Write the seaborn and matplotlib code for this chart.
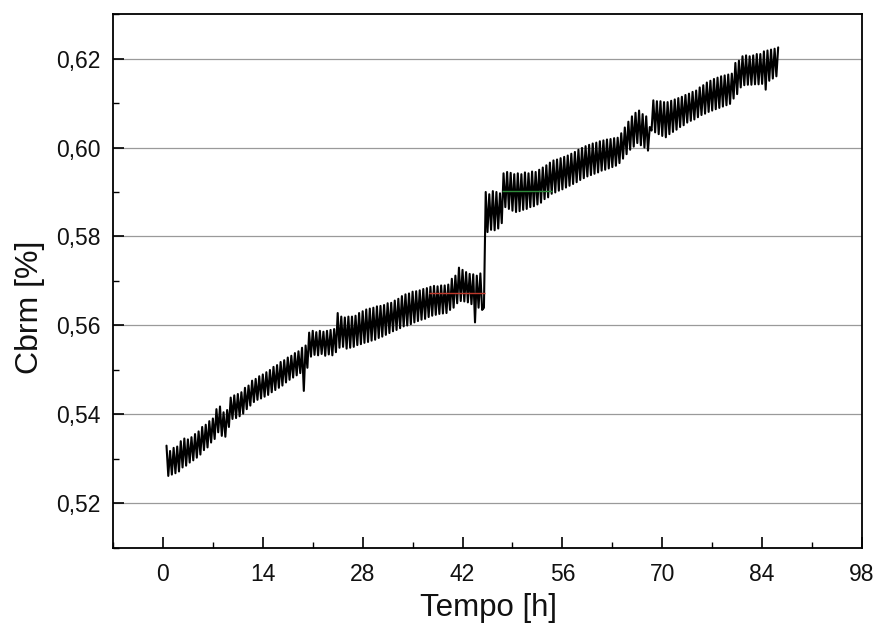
import numpy as np
import matplotlib
matplotlib.use("Agg")
import matplotlib.pyplot as plt
from matplotlib.ticker import MultipleLocator, FuncFormatter
import seaborn as sns

t_start = 0.5
t_step = 0.25

cbrm_00_22 = [
    0.5330, 0.5262, 0.5318, 0.5265, 0.5325, 0.5268, 0.5328, 0.5272,
    0.5340, 0.5281, 0.5346, 0.5285, 0.5344, 0.5292, 0.5349, 0.5297,
    0.5356, 0.5303, 0.5362, 0.5310, 0.5372, 0.5320, 0.5377, 0.5326,
    0.5385, 0.5337, 0.5391, 0.5345, 0.5412, 0.5360, 0.5418, 0.5352,
    0.5405, 0.5350, 0.5410, 0.5372, 0.5438, 0.5390, 0.5443, 0.5392,
    0.5446, 0.5396, 0.5450, 0.5402, 0.5460, 0.5412, 0.5465, 0.5420,
    0.5476, 0.5428, 0.5480, 0.5433, 0.5486, 0.5436, 0.5490, 0.5440,
    0.5495, 0.5444, 0.5500, 0.5450, 0.5507, 0.5455, 0.5511, 0.5460,
    0.5518, 0.5465, 0.5522, 0.5472, 0.5528, 0.5478, 0.5532, 0.5483,
    0.5538, 0.5488, 0.5542, 0.5493, 0.5550, 0.5453, 0.5555, 0.5505,
    0.5584, 0.5530, 0.5588, 0.5534, 0.5585, 0.5533, 0.5588, 0.5536,
]
cbrm_22_45 = [
    0.5586, 0.5532, 0.5588, 0.5535, 0.5590, 0.5533, 0.5592, 0.5540,
    0.5628, 0.5550, 0.5620, 0.5552, 0.5618, 0.5548, 0.5620, 0.5550,
    0.5620, 0.5552, 0.5622, 0.5556, 0.5628, 0.5558, 0.5632, 0.5561,
    0.5636, 0.5563, 0.5638, 0.5566, 0.5640, 0.5568, 0.5643, 0.5572,
    0.5644, 0.5575, 0.5646, 0.5579, 0.5650, 0.5583, 0.5651, 0.5587,
    0.5656, 0.5590, 0.5660, 0.5594, 0.5666, 0.5598, 0.5670, 0.5600,
    0.5672, 0.5603, 0.5676, 0.5607, 0.5677, 0.5610, 0.5679, 0.5613,
    0.5682, 0.5615, 0.5684, 0.5619, 0.5687, 0.5622, 0.5689, 0.5624,
    0.5688, 0.5626, 0.5690, 0.5627, 0.5690, 0.5628, 0.5692, 0.5635,
    0.5705, 0.5640, 0.5712, 0.5650, 0.5730, 0.5655, 0.5725, 0.5654,
    0.5720, 0.5652, 0.5716, 0.5648, 0.5715, 0.5607, 0.5712, 0.5640,
    0.5717, 0.5635, 0.5640, 0.5900,
]
cbrm_45_66 = [
    0.5810, 0.5895, 0.5815, 0.5902, 0.5814, 0.5900, 0.5818, 0.5897,
    0.5830, 0.5942, 0.5866, 0.5945, 0.5862, 0.5943, 0.5858, 0.5940,
    0.5855, 0.5942, 0.5857, 0.5940, 0.5860, 0.5944, 0.5862, 0.5942,
    0.5866, 0.5946, 0.5868, 0.5945, 0.5872, 0.5950, 0.5876, 0.5955,
    0.5884, 0.5960, 0.5888, 0.5966, 0.5896, 0.5971, 0.5899, 0.5973,
    0.5903, 0.5976, 0.5906, 0.5979, 0.5910, 0.5982, 0.5914, 0.5986,
    0.5918, 0.5990, 0.5922, 0.5995, 0.5927, 0.5999, 0.5931, 0.6003,
    0.5935, 0.6006, 0.5938, 0.6009, 0.5941, 0.6011, 0.5944, 0.6014,
    0.5948, 0.6016, 0.5950, 0.6018, 0.5953, 0.6019, 0.5956, 0.6021,
    0.5959, 0.6022, 0.5965, 0.6032, 0.5975, 0.6045, 0.5985, 0.6058,
    0.5995, 0.6070, 0.6002, 0.6078,
]
cbrm_66_87 = [
    0.6010, 0.6083, 0.6005, 0.6075, 0.6000, 0.6070, 0.5993, 0.6046,
    0.6038, 0.6106, 0.6034, 0.6104, 0.6030, 0.6104, 0.6026, 0.6102,
    0.6023, 0.6102, 0.6030, 0.6105, 0.6035, 0.6108, 0.6040, 0.6111,
    0.6046, 0.6114, 0.6050, 0.6118, 0.6056, 0.6121, 0.6060, 0.6125,
    0.6063, 0.6128, 0.6068, 0.6135, 0.6073, 0.6140, 0.6076, 0.6146,
    0.6080, 0.6150, 0.6083, 0.6154, 0.6086, 0.6157, 0.6089, 0.6160,
    0.6092, 0.6162, 0.6095, 0.6164, 0.6098, 0.6166, 0.6110, 0.6190,
    0.6120, 0.6195, 0.6135, 0.6205, 0.6140, 0.6207, 0.6141, 0.6205,
    0.6141, 0.6207, 0.6142, 0.6210, 0.6142, 0.6210, 0.6143, 0.6216,
    0.6130, 0.6218, 0.6150, 0.6220, 0.6155, 0.6222, 0.6160, 0.6225,
]

# mean-level segments (red / green) seen in the reference
mean_levels = [0.5673, 0.5903]
mean_starts = [37.3, 47.5]
mean_ends = [45.2, 54.5]
mean_colors = ["#c0392b", "#2e8b3a"]

x_ticks = [0, 14, 28, 42, 56, 70, 84, 98]
y_ticks = [0.52, 0.54, 0.56, 0.58, 0.60, 0.62]

cbrm = np.array(cbrm_00_22 + cbrm_22_45 + cbrm_45_66 + cbrm_66_87)
tempo = t_start + t_step * np.arange(len(cbrm))

# ---- plot ----
sns.set_theme(style="white")
plt.rcParams["font.family"] = ["Liberation Sans", "DejaVu Sans"]

fig = plt.figure(figsize=(8.76, 6.28), dpi=100)
ax = fig.add_axes([0.129, 0.1274, 0.855, 0.8503])

ax.grid(False)
for yv in y_ticks:
    ax.axhline(yv, color="#9a9a9a", linewidth=0.9, zorder=0)

sns.lineplot(x=tempo, y=cbrm, ax=ax, color="black", linewidth=1.5,
             estimator=None, sort=False, zorder=2)

for lv, xs, xe, c in zip(mean_levels, mean_starts, mean_ends, mean_colors):
    ax.hlines(lv, xs, xe, colors=c, linewidth=1.0, zorder=3)

ax.set_xlim(-7, 98)
ax.set_ylim(0.51, 0.63)
ax.set_xticks(x_ticks)
ax.set_yticks(y_ticks)
ax.xaxis.set_minor_locator(MultipleLocator(7))
ax.yaxis.set_minor_locator(MultipleLocator(0.01))
ax.yaxis.set_major_formatter(FuncFormatter(lambda v, p: f"{v:.2f}".replace(".", ",")))

ax.tick_params(axis="both", which="major", direction="in", length=8, width=1.2,
               labelsize=16.5, color="black", labelcolor="#111111",
               bottom=True, left=True, top=False, right=False)
ax.tick_params(axis="x", which="major", pad=11)
ax.tick_params(axis="y", which="major", pad=9)
ax.tick_params(axis="both", which="minor", direction="in", length=4, width=1.0,
               color="black", bottom=True, left=True, top=False, right=False)

for s in ax.spines.values():
    s.set_color("black")
    s.set_linewidth(1.3)

ax.set_xlabel("Tempo [h]", fontsize=22.5, color="#111111")
ax.set_ylabel("Cbrm [%]", fontsize=23, color="#111111")
ax.xaxis.set_label_coords(0.5007, -0.112, transform=ax.transAxes)
ax.yaxis.set_label_coords(-0.111, 0.451, transform=ax.transAxes)
ax.xaxis.label.set_va("center")
ax.yaxis.label.set_va("center")

fig.savefig("out.png", dpi=100)
